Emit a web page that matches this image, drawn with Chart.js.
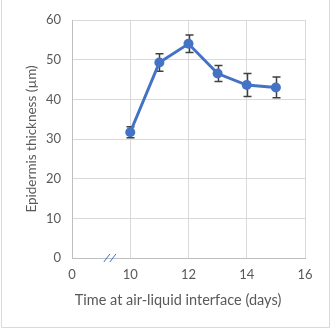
<!DOCTYPE html>
<html>
<head>
<meta charset="utf-8">
<script src="https://cdn.jsdelivr.net/npm/chart.js@4.4.1/dist/chart.umd.min.js"></script>
<style>
  html, body { margin: 0; padding: 0; background: #fff; }
</style>
</head>
<body>
<canvas id="grafico" width="334" height="334"></canvas>
<script>
// ---------- DATOS ----------
const dias    = [10, 11, 12, 13, 14, 15];
const grosor  = [31.7, 49.3, 54.0, 46.5, 43.6, 43.0];
const errores = [1.4, 2.2, 2.2, 2.0, 2.9, 2.6];

// eje x roto: el origen "0" se dibuja en la posición 8
const X_ORIGEN = 8;
const X_CORTE  = 9.3;
const ticksX   = [8, 10, 12, 14, 16];
const ticksY   = { min: 0, max: 60, paso: 10 };

const AZUL    = "#4472C4";
const GRIS    = "#595959";
const REJILLA = "#d9d9d9";
const EJE     = "#bfbfbf";
const FUENTE  = "Lato";

// ---------- PLUGIN: barras de error, corte del eje, título x, marco ----------
const extras = {
  id: "extras",
  beforeDatasetsDraw(chart) {
    const { ctx, scales: { x, y } } = chart;
    ctx.save();
    ctx.strokeStyle = "#404040";
    ctx.lineWidth = 1.5;
    dias.forEach((d, i) => {
      const px = Math.round(x.getPixelForValue(d)) + 0.5;
      const top = y.getPixelForValue(grosor[i] + errores[i]);
      const bot = y.getPixelForValue(grosor[i] - errores[i]);
      ctx.beginPath();
      ctx.moveTo(px, top); ctx.lineTo(px, bot);
      ctx.moveTo(px - 4, top); ctx.lineTo(px + 4, top);
      ctx.moveTo(px - 4, bot); ctx.lineTo(px + 4, bot);
      ctx.stroke();
    });
    ctx.restore();
  },
  afterDraw(chart) {
    const { ctx, scales: { x, y } } = chart;
    ctx.save();
    // corte "//"
    const cx = x.getPixelForValue(X_CORTE);
    const cy = y.getPixelForValue(0);
    ctx.strokeStyle = AZUL;
    ctx.lineWidth = 1;
    [-3, 3].forEach(dx => {
      ctx.beginPath();
      ctx.moveTo(cx + dx - 3, cy + 4);
      ctx.lineTo(cx + dx + 3, cy - 4);
      ctx.stroke();
    });
    // título eje x
    ctx.fillStyle = GRIS;
    ctx.font = "14.5px " + FUENTE;
    ctx.textAlign = "center";
    ctx.textBaseline = "middle";
    ctx.fillText("Time at air-liquid interface (days)", 178, 300);
    // marco
    ctx.strokeStyle = REJILLA;
    ctx.beginPath();
    ctx.moveTo(1.5, 0); ctx.lineTo(1.5, 327.5);
    ctx.lineTo(329.5, 327.5); ctx.lineTo(329.5, 0);
    ctx.stroke();
    ctx.restore();
  }
};

// ---------- GRÁFICA ----------
new Chart(document.getElementById("grafico").getContext("2d"), {
  type: "line",
  data: {
    datasets: [{
      data: dias.map((d, i) => ({ x: d, y: grosor[i] })),
      borderColor: AZUL,
      backgroundColor: AZUL,
      borderWidth: 3,
      pointRadius: 5,
      pointBorderWidth: 0,
      tension: 0
    }]
  },
  options: {
    responsive: false,
    animation: false,
    layout: { padding: { left: 20, top: 20, right: 29, bottom: 0 } },
    plugins: { legend: { display: false }, tooltip: { enabled: false } },
    scales: {
      x: {
        type: "linear",
        min: X_ORIGEN, max: 16,
        afterFit: s => { s.height = 76; },
        afterBuildTicks: s => { s.ticks = ticksX.map(v => ({ value: v })); },
        ticks: {
          color: GRIS, font: { family: FUENTE, size: 13 }, padding: 9,
          callback: v => v === X_ORIGEN ? "0" : v
        },
        grid: {
          drawTicks: false,
          color: c => c.tick && c.tick.value === X_ORIGEN ? "transparent" : REJILLA
        },
        border: { color: EJE }
      },
      y: {
        min: ticksY.min, max: ticksY.max,
        afterFit: s => { s.width = 52; },
        ticks: { stepSize: ticksY.paso, color: GRIS, font: { family: FUENTE, size: 13 }, padding: 11 },
        grid: {
          drawTicks: false,
          color: c => c.tick && c.tick.value === 0 ? "transparent" : REJILLA
        },
        border: { color: EJE },
        title: {
          display: true, text: "Epidermis thickness (µm)", color: GRIS,
          font: { family: FUENTE, size: 13.5 }, padding: { top: 4, bottom: 0 }
        }
      }
    }
  },
  plugins: [extras]
});
</script>
</body>
</html>
